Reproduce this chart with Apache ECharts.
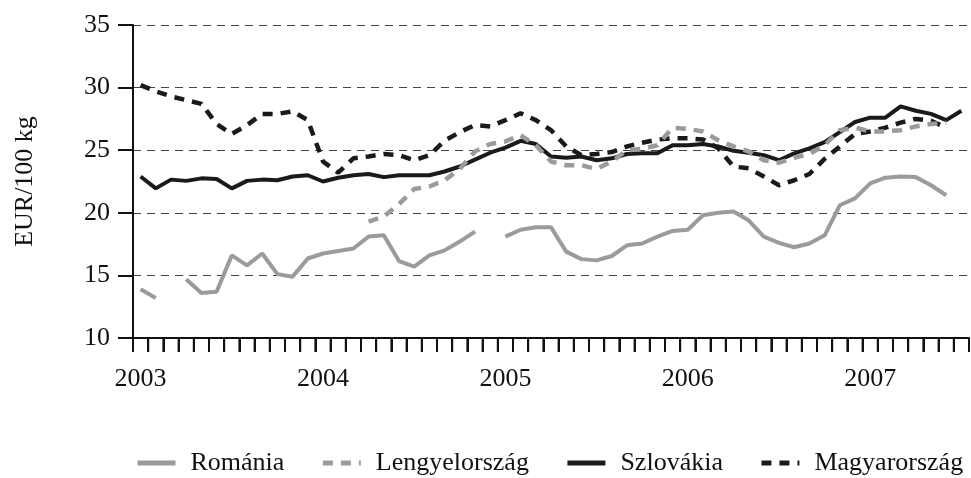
<!DOCTYPE html>
<html>
<head>
<meta charset="utf-8">
<script src="https://cdn.jsdelivr.net/npm/echarts@6/dist/echarts.min.js"></script>
<style>
  html, body { margin: 0; padding: 0; background: #fff; }
  #chart { width: 971px; height: 478px; }
</style>
</head>
<body>
<div id="chart"></div>
<script>
// havi adatok 2003 január - 2007 július
var months = [
  '2003-01','2003-02','2003-03','2003-04','2003-05','2003-06','2003-07','2003-08','2003-09','2003-10','2003-11','2003-12',
  '2004-01','2004-02','2004-03','2004-04','2004-05','2004-06','2004-07','2004-08','2004-09','2004-10','2004-11','2004-12',
  '2005-01','2005-02','2005-03','2005-04','2005-05','2005-06','2005-07','2005-08','2005-09','2005-10','2005-11','2005-12',
  '2006-01','2006-02','2006-03','2006-04','2006-05','2006-06','2006-07','2006-08','2006-09','2006-10','2006-11','2006-12',
  '2007-01','2007-02','2007-03','2007-04','2007-05','2007-06','2007-07'
];

var romania = [13.9, 13.2, null, 14.7, 13.6, 13.7, 16.6, 15.8, 16.75, 15.1,
  14.9, 16.35, 16.75, 16.95, 17.15, 18.1, 18.2, 16.15, 15.7, 16.6,
  17.0, 17.7, 18.5, null, 18.1, 18.65, 18.85, 18.85, 16.9, 16.3,
  16.2, 16.55, 17.4, 17.55, 18.1, 18.55, 18.65, 19.8, 20.0, 20.1,
  19.4, 18.1, 17.6, 17.25, 17.55, 18.2, 20.6, 21.15, 22.35, 22.8,
  22.9, 22.85, 22.2, 21.4, null];

var lengyel = [null, null, null, null, null, null, null, null, null, null,
  null, null, null, null, null, 19.3, 19.7, 20.7, 21.9, 22.1,
  22.6, 23.5, 24.9, 25.5, 25.7, 26.2, 25.4, 24.1, 23.8, 23.8,
  23.5, 24.1, 25.0, 25.1, 25.4, 26.8, 26.7, 26.5, 25.8, 25.3,
  24.9, 24.2, 24.0, 24.4, 24.7, 25.4, 26.6, 26.8, 26.5, 26.5,
  26.6, 26.9, 27.1, 27.2, null];

var szlovakia = [22.9, 21.95, 22.65, 22.55, 22.75, 22.7, 21.95, 22.55, 22.65, 22.6,
  22.9, 23.0, 22.5, 22.8, 23.0, 23.1, 22.85, 23.0, 23.0, 23.0,
  23.3, 23.7, 24.25, 24.8, 25.2, 25.75, 25.5, 24.5, 24.4, 24.5,
  24.2, 24.35, 24.7, 24.75, 24.75, 25.4, 25.4, 25.5, 25.3, 24.95,
  24.8, 24.6, 24.2, 24.75, 25.15, 25.65, 26.45, 27.25, 27.6, 27.6,
  28.5, 28.15, 27.9, 27.4, 28.15];

var magyar = [30.2, 29.7, 29.3, 29.0, 28.7, 27.1, 26.3, 27.0, 27.9, 27.9,
  28.1, 27.4, 24.1, 23.2, 24.35, 24.5, 24.7, 24.6, 24.2, 24.6,
  25.75, 26.45, 27.0, 26.9, 27.4, 27.95, 27.4, 26.6, 25.3, 24.6,
  24.7, 24.85, 25.3, 25.6, 25.85, 25.95, 25.95, 25.85, 25.15, 23.7,
  23.55, 22.9, 22.2, 22.6, 23.1, 24.3, 25.3, 26.3, 26.5, 26.8,
  27.2, 27.5, 27.35, 26.8, null];

var names = ['Románia', 'Lengyelország', 'Szlovákia', 'Magyarország'];
var yTicks = [10, 15, 20, 25, 30, 35];

var FONT = '"Liberation Serif", "Times New Roman", serif';
var GRAY = '#9b9b9b';
var BLACK = '#1a1a1a';

var chart = echarts.init(document.getElementById('chart'));

// osztásjelek: minden hónap sávjának bal széle (+ az utolsó jobb széle)
function renderTick(params, api) {
  var p = api.coord([api.value(0), yTicks[0]]);
  var w = api.size([1, 0])[0];
  var lines = [{
    type: 'line',
    shape: { x1: p[0] - w / 2, y1: p[1], x2: p[0] - w / 2, y2: p[1] + 14 },
    style: { stroke: '#111', lineWidth: 2 }
  }];
  if (params.dataIndex === months.length - 1) {
    lines.push({
      type: 'line',
      shape: { x1: p[0] + w / 2, y1: p[1], x2: p[0] + w / 2, y2: p[1] + 14 },
      style: { stroke: '#111', lineWidth: 2 }
    });
  }
  return { type: 'group', children: lines };
}

chart.setOption({
  animation: false,
  backgroundColor: '#fff',
  grid: { left: 133, right: 2, top: 25, bottom: 140 },
  legend: {
    data: names,
    left: 135,
    top: 450,
    padding: 0,
    width: 840,
    itemWidth: 38,
    itemHeight: 14,
    itemGap: 36,
    itemStyle: { color: 'transparent', borderColor: 'transparent', borderWidth: 0 },
    lineStyle: { width: 5 },
    textStyle: {
      fontFamily: FONT,
      fontSize: 26,
      color: '#111',
      padding: [0, 0, 0, 10]
    }
  },
  xAxis: {
    type: 'category',
    data: months,
    boundaryGap: true,
    axisLine: { show: true, onZero: false, lineStyle: { color: '#111', width: 2 } },
    axisTick: { show: true, interval: 0, length: 14, lineStyle: { color: '#111', width: 2 } },
    axisLabel: {
      interval: 11,
      formatter: function (v) { return v.slice(0, 4); },
      margin: 28,
      fontFamily: FONT,
      fontSize: 26,
      color: '#111'
    },
    splitLine: { show: false }
  },
  yAxis: {
    type: 'value',
    min: yTicks[0],
    max: yTicks[yTicks.length - 1],
    interval: 5,
    name: 'EUR/100 kg',
    nameLocation: 'middle',
    nameGap: 95,
    nameTextStyle: { fontFamily: FONT, fontSize: 26, color: '#111' },
    axisLine: { show: true, lineStyle: { color: '#111', width: 2 } },
    axisTick: { show: true, length: 15, lineStyle: { color: '#111', width: 2 } },
    axisLabel: { margin: 23, fontFamily: FONT, fontSize: 26, color: '#111' },
    splitLine: { show: true, lineStyle: { color: '#444', width: 1, type: [8, 6] } }
  },
  series: [
    {
      name: names[0],
      type: 'line',
      data: romania,
      symbol: 'none',
      connectNulls: false,
      z: 4,
      lineStyle: { color: GRAY, width: 4 },
      itemStyle: { color: GRAY }
    },
    {
      name: names[1],
      type: 'line',
      data: lengyel,
      symbol: 'none',
      connectNulls: false,
      z: 4,
      lineStyle: { color: GRAY, width: 4.5, type: [10, 8] },
      itemStyle: { color: GRAY }
    },
    {
      name: names[2],
      type: 'line',
      data: szlovakia,
      symbol: 'none',
      z: 2,
      lineStyle: { color: BLACK, width: 4 },
      itemStyle: { color: BLACK }
    },
    {
      name: names[3],
      type: 'line',
      data: magyar,
      symbol: 'none',
      connectNulls: false,
      z: 3,
      lineStyle: { color: BLACK, width: 4.5, type: [10, 8] },
      itemStyle: { color: BLACK }
    },
    {
      type: 'custom',
      name: 'ticks',
      silent: true,
      clip: false,
      z: 10,
      renderItem: renderTick,
      data: months.map(function (m, i) { return [i, yTicks[0]]; })
    }
  ]
});
</script>
</body>
</html>
